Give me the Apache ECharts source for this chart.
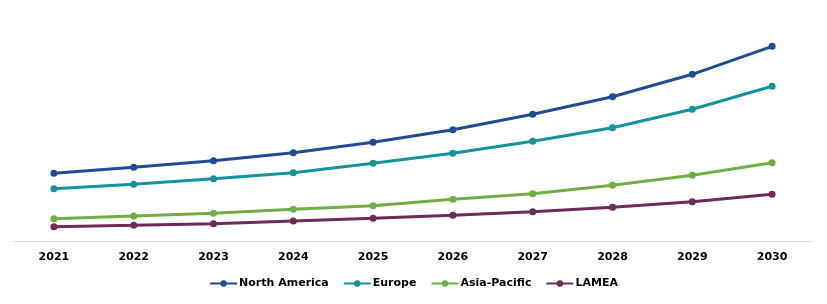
<!DOCTYPE html>
<html>
<head>
<meta charset="utf-8">
<script src="https://cdn.jsdelivr.net/npm/echarts@6/dist/echarts.min.js"></script>
<style>html,body{margin:0;padding:0;background:#fff;}#c{width:827px;height:304px;}</style>
</head>
<body>
<div id="c"></div>
<script>
const years = ['2021','2022','2023','2024','2025','2026','2027','2028','2029','2030'];
const northAmerica = [67.7, 73.7, 80.3, 88.3, 98.7, 111.3, 126.7, 144.3, 166.7, 194.7];
const europe = [52.3, 56.7, 62.3, 68.3, 77.7, 87.7, 99.7, 113.3, 131.7, 154.7];
const asiaPacific = [22.3, 25.0, 27.7, 31.7, 35.3, 41.7, 47.3, 55.7, 65.7, 78.3];
const lamea = [14.3, 15.7, 17.3, 20.0, 22.7, 25.7, 29.3, 33.7, 39.3, 46.7];
const seriesNames = ['North America','Europe','Asia-Pacific','LAMEA'];
const colors = ['#234B92','#17929A','#70AD47','#6B2C56'];
const allData = [northAmerica, europe, asiaPacific, lamea];

const chart = echarts.init(document.getElementById('c'), null, {renderer:'canvas'});
chart.setOption({
  animation:false,
  color: colors,
  grid:{left:14,right:15,top:21,bottom:63,containLabel:false},
  legend:{
    bottom:10, left:'center',
    itemWidth:27, itemHeight:8, itemGap:14,
    textStyle:{fontFamily:'DejaVu Sans',fontWeight:'bold',fontSize:11,color:'#000',padding:[0,0,0,-3]},
    data: seriesNames
  },
  xAxis:{
    type:'category', data: years, boundaryGap:true,
    axisLine:{lineStyle:{color:'#D9D9D9',width:1}},
    axisTick:{show:false},
    axisLabel:{fontFamily:'DejaVu Sans',fontWeight:'bold',fontSize:11,color:'#000',margin:11}
  },
  yAxis:{type:'value',min:0,max:220,show:false,splitLine:{show:false}},
  series: allData.map((d,i)=>({
    name: seriesNames[i], type:'line', data:d,
    symbol:'circle', symbolSize:7, showSymbol:true,
    lineStyle:{width:3,color:colors[i]},
    itemStyle:{color:colors[i]}
  }))
});
</script>
</body>
</html>
